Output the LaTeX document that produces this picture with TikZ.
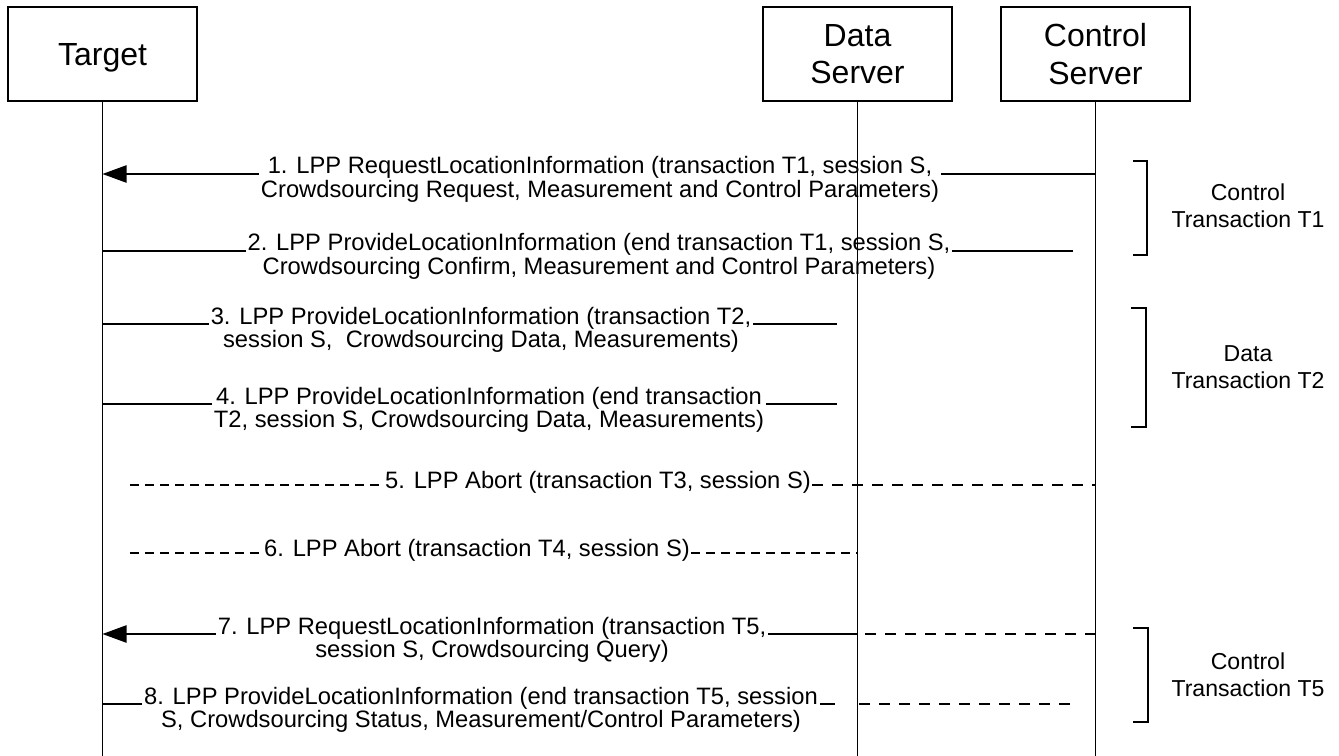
\documentclass[tikz,border=0pt]{standalone}
\usepackage{fontspec}
\setmainfont{Liberation Sans}
\usetikzlibrary{arrows.meta}
\begin{document}
\begin{tikzpicture}[x=0.75pt,y=-0.75pt,line width=0.9pt,
  actor/.style={draw,minimum width=141.75pt,minimum height=70.5pt,inner sep=0pt,align=center,font=\fontsize{24}{28}\selectfont},
  msg/.style={anchor=base,inner xsep=1pt,inner ysep=0pt,font=\fontsize{17.8}{16.9}\selectfont},
  abort/.style={anchor=mid,inner xsep=0.5pt,inner ysep=0pt,font=\fontsize{17.8}{16.9}\selectfont},
  brlabel/.style={align=center,inner sep=0pt,font=\fontsize{17.3}{20.3}\selectfont},
  arr/.style={-{Triangle[length=18pt,width=13pt]}},
  dashL/.style={dash pattern=on 6.75pt off 4.5pt},
  dashR/.style={dash pattern=on 8.25pt off 6.75pt},
  bracket/.style={line width=0.9pt}]
\useasboundingbox (0,0) rectangle (1339,756);
% actors
\node[actor,text depth=0pt] (T) at (102.5,54) {Target};
\node[actor] (D) at (857.5,54) {Data\\Server};
\node[actor] (C) at (1095.5,54) {Control\\Server};
\coordinate (bot) at (0,756);
% lifelines
\draw (T.south) -- (T.south |- bot);
\draw (D.south) -- (D.south |- bot);
\draw (C.south) -- (C.south |- bot);
% message 1
\node[msg] (m1) at (600,174) {\begin{tabular}[t]{@{}c@{}}1. LPP RequestLocationInformation (transaction T1, session S,\\Crowdsourcing Request, Measurement and Control Parameters)\end{tabular}};
\draw (C |- m1.base) -- (m1.base east);
\draw[arr] (m1.base west) -- (T |- m1.base);
% message 2
\node[msg] (m2) at (599,251) {\begin{tabular}[t]{@{}c@{}}2. LPP ProvideLocationInformation (end transaction T1, session S,\\Crowdsourcing Confirm, Measurement and Control Parameters)\end{tabular}};
\coordinate (e2) at (1073,251);
\draw (T |- m2.base) -- (m2.base west);
\draw (m2.base east) -- (e2);
% message 3
\node[msg] (m3) at (481,324) {\begin{tabular}[t]{@{}c@{}}3. LPP ProvideLocationInformation (transaction T2,\\session S,~ Crowdsourcing Data, Measurements)\end{tabular}};
\coordinate (e3) at (837,324);
\draw (T |- m3.base) -- (m3.base west);
\draw (m3.base east) -- (e3);
% message 4
\node[msg] (m4) at (489,404) {\begin{tabular}[t]{@{}c@{}}4. LPP ProvideLocationInformation (end transaction\\T2, session S, Crowdsourcing Data, Measurements)\end{tabular}};
\coordinate (e4) at (837,404);
\draw (T |- m4.base) -- (m4.base west);
\draw (m4.base east) -- (e4);
% message 5
\node[abort] (m5) at (598,485) {5. LPP Abort (transaction T3, session S)};
\coordinate (s5) at (130,485);
\draw[dashL] (s5) -- (m5.mid west);
\draw[dashR] (m5.mid east) -- (C |- m5.mid);
% message 6
\node[abort] (m6) at (477,553) {6. LPP Abort (transaction T4, session S)};
\coordinate (s6) at (130,553);
\draw[dashL] (s6) -- (m6.mid west);
\draw[dashL] (m6.mid east) -- (D |- m6.mid);
% message 7
\node[msg] (m7) at (492,634) {\begin{tabular}[t]{@{}c@{}}7. LPP RequestLocationInformation (transaction T5,\\session S, Crowdsourcing Query)\end{tabular}};
\draw[dashR] (C |- m7.base) -- (D |- m7.base);
\draw (D |- m7.base) -- (m7.base east);
\draw[arr] (m7.base west) -- (T |- m7.base);
% message 8
\node[msg] (m8) at (481,704) {\begin{tabular}[t]{@{}c@{}}8. LPP ProvideLocationInformation (end transaction T5, session\\S, Crowdsourcing Status, Measurement/Control Parameters)\end{tabular}};
\coordinate (a8) at (835,704);
\coordinate (b8) at (859,704);
\coordinate (e8) at (1073,704);
\draw (T |- m8.base) -- (m8.base west);
\draw (m8.base east) -- (a8);
\draw[dashR] (b8) -- (e8);
% brackets
\draw[bracket] (1133,161) -- (1147,161) -- (1147,255) -- (1133,255);
\node[brlabel] (b1) at (1248,206) {Control\\Transaction T1};
\draw[bracket] (1131,308) -- (1146,308) -- (1146,427) -- (1131,427);
\node[brlabel] (b2) at (1248,367) {Data\\Transaction T2};
\draw[bracket] (1133,628) -- (1148,628) -- (1148,722) -- (1133,722);
\node[brlabel] (b3) at (1248,675) {Control\\Transaction T5};
\end{tikzpicture}
\end{document}
